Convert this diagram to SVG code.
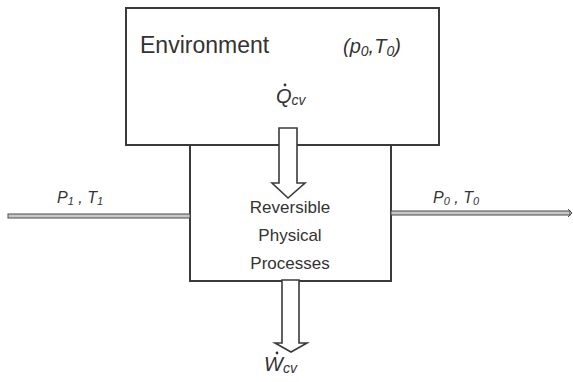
<svg xmlns="http://www.w3.org/2000/svg" width="573" height="382" viewBox="0 0 573 382">
<style>
.box{fill:#fff;stroke:#3a3a3a;stroke-width:2}
.arr{fill:#fff;stroke:#3a3a3a;stroke-width:1.6;stroke-linejoin:miter}
.pipe{fill:#c8c8c8;stroke:#4a4a4a;stroke-width:1}
text{font-family:"Liberation Sans",Arial,sans-serif;fill:#333}
.it{font-style:italic}
</style>
<rect width="573" height="382" fill="#fff"/>
<g id="environment">
<rect class="box" x="126" y="8" width="313" height="137"/>
<text x="140" y="53" font-size="23">Environment</text>
<text x="343" y="53" font-size="20" class="it">(p<tspan font-size="14" dy="3">0</tspan><tspan dy="-3">,T</tspan><tspan font-size="14" dy="3">0</tspan><tspan dy="-3">)</tspan></text>
</g>
<g id="process">
<rect class="box" x="190" y="145" width="201" height="136"/>
<text x="290" y="213" font-size="17" text-anchor="middle">Reversible</text>
<text x="290" y="241" font-size="17" text-anchor="middle">Physical</text>
<text x="290" y="269" font-size="17" text-anchor="middle">Processes</text>
</g>
<g id="connectors">
<rect class="pipe" x="8" y="214" width="182" height="4"/>
<rect class="pipe" x="391" y="211" width="179" height="4"/>
<path d="M568,209 L572,213 L568,217" fill="none" stroke="#4a4a4a" stroke-width="1"/>
<polygon class="arr" points="279,128 297,128 297,183 305,183 288,198 272,183 279,183"/>
<polygon class="arr" points="282,280 299,280 299,343 307,343 291,352 275,343 282,343"/>
</g>
<g id="labels">
<text x="276" y="103" font-size="20" class="it">Q<tspan font-size="14" dy="2">cv</tspan></text>
<circle cx="285" cy="85" r="1.4" fill="#333"/>
<text x="264" y="371" font-size="20" class="it">W<tspan font-size="14" dy="2">cv</tspan></text>
<circle cx="277" cy="353" r="1.4" fill="#333"/>
<text x="57" y="203" font-size="16" class="it">P<tspan font-size="11" dy="2">1</tspan><tspan dy="-2"> , T</tspan><tspan font-size="11" dy="2">1</tspan></text>
<text x="433" y="203" font-size="16" class="it">P<tspan font-size="11" dy="2">0</tspan><tspan dy="-2"> , T</tspan><tspan font-size="11" dy="2">0</tspan></text>
</g>
</svg>
